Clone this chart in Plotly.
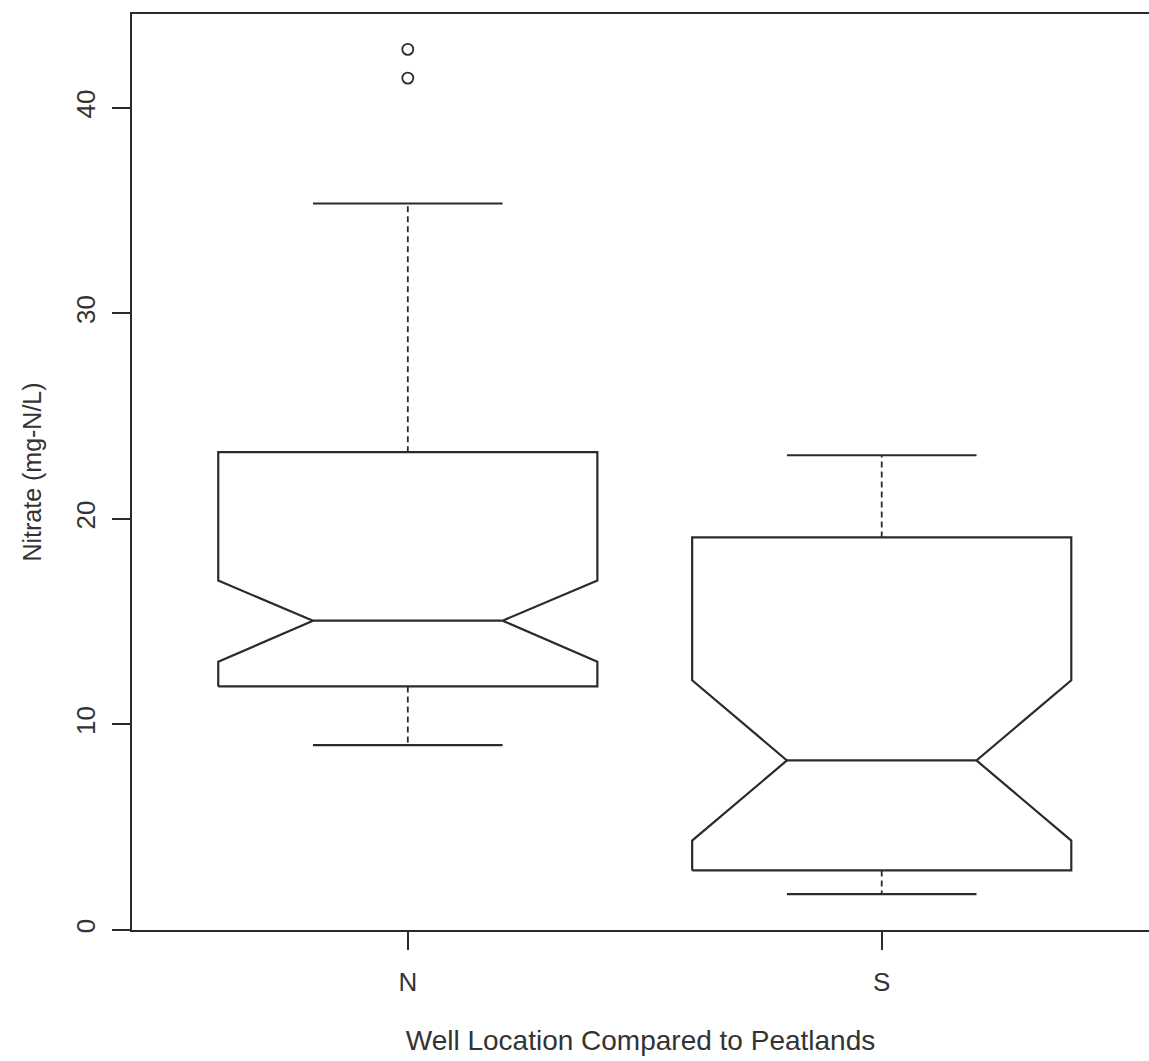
import plotly.graph_objects as go

# Summary statistics of nitrate concentration per well group
categories = ["N", "S"]
lower_whisker = [9.0, 1.75]
q1 = [11.85, 2.9]
median = [15.05, 8.25]
q3 = [23.25, 19.1]
upper_whisker = [35.35, 23.1]
notch_lo = [13.05, 4.35]
notch_hi = [17.0, 12.15]
outliers_N = [41.45, 42.85]
outliers_S = []
outliers = [outliers_N, outliers_S]

LINE = "#2b2b2b"
LW = 2.2
BOX_HALF = 0.4      # half box width (boxwex 0.8)
STAPLE_HALF = 0.2   # half staple width
FONT = "Liberation Sans, Arial, Helvetica, sans-serif"

fig = go.Figure()

for i, cat in enumerate(categories):
    x = i + 1
    w = BOX_HALF
    # notched box outline
    bx = [x - w, x - w, x - w / 2, x - w, x - w, x + w, x + w, x + w / 2, x + w, x + w, x - w]
    by = [q1[i], notch_lo[i], median[i], notch_hi[i], q3[i], q3[i], notch_hi[i], median[i],
          notch_lo[i], q1[i], q1[i]]
    fig.add_trace(go.Scatter(x=bx, y=by, mode="lines", line=dict(color=LINE, width=LW),
                             hoverinfo="skip", showlegend=False))
    # median segment
    fig.add_trace(go.Scatter(x=[x - w / 2, x + w / 2], y=[median[i], median[i]], mode="lines",
                             line=dict(color=LINE, width=LW), showlegend=False))
    # dashed whiskers
    for a, b in ((q3[i], upper_whisker[i]), (q1[i], lower_whisker[i])):
        fig.add_trace(go.Scatter(x=[x, x], y=[a, b], mode="lines",
                                 line=dict(color=LINE, width=1.8, dash="6px,4px"),
                                 showlegend=False))
    # staples
    for v in (upper_whisker[i], lower_whisker[i]):
        fig.add_trace(go.Scatter(x=[x - STAPLE_HALF, x + STAPLE_HALF], y=[v, v], mode="lines",
                                 line=dict(color=LINE, width=LW), showlegend=False))
    # outlying points
    if outliers[i]:
        fig.add_trace(go.Scatter(x=[x] * len(outliers[i]), y=outliers[i], mode="markers",
                                 marker=dict(symbol="circle-open", size=11, color=LINE,
                                             line=dict(color=LINE, width=1.8)),
                                 showlegend=False))

fig.update_layout(
    width=1149, height=1061,
    margin=dict(l=132, r=0, t=14, b=131),
    paper_bgcolor="white", plot_bgcolor="white",
    font=dict(family=FONT, size=26, color="#333333"),
    showlegend=False,
    xaxis=dict(
        range=[0.418, 2.564], showgrid=False, zeroline=False,
        showline=True, linecolor=LINE, linewidth=LW, mirror=True,
        ticks="outside", ticklen=18, tickwidth=1.5, tickcolor=LINE,
        tickvals=[1, 2], ticktext=categories, ticklabelstandoff=10,
        tickfont=dict(size=26),
        title=dict(text="Well Location Compared to Peatlands", standoff=34,
                   font=dict(size=28)),
    ),
    yaxis=dict(
        range=[0, 44.57], showgrid=False, zeroline=False,
        showline=True, linecolor=LINE, linewidth=LW,
        ticks="outside", ticklen=18, tickwidth=1.5, tickcolor=LINE,
        tickvals=[0, 10, 20, 30, 40], tickangle=-90, ticklabelstandoff=7,
        tickfont=dict(size=26),
        title=dict(text="Nitrate (mg-N/L)", standoff=22, font=dict(size=25)),
    ),
)

fig.write_html("out.html")
